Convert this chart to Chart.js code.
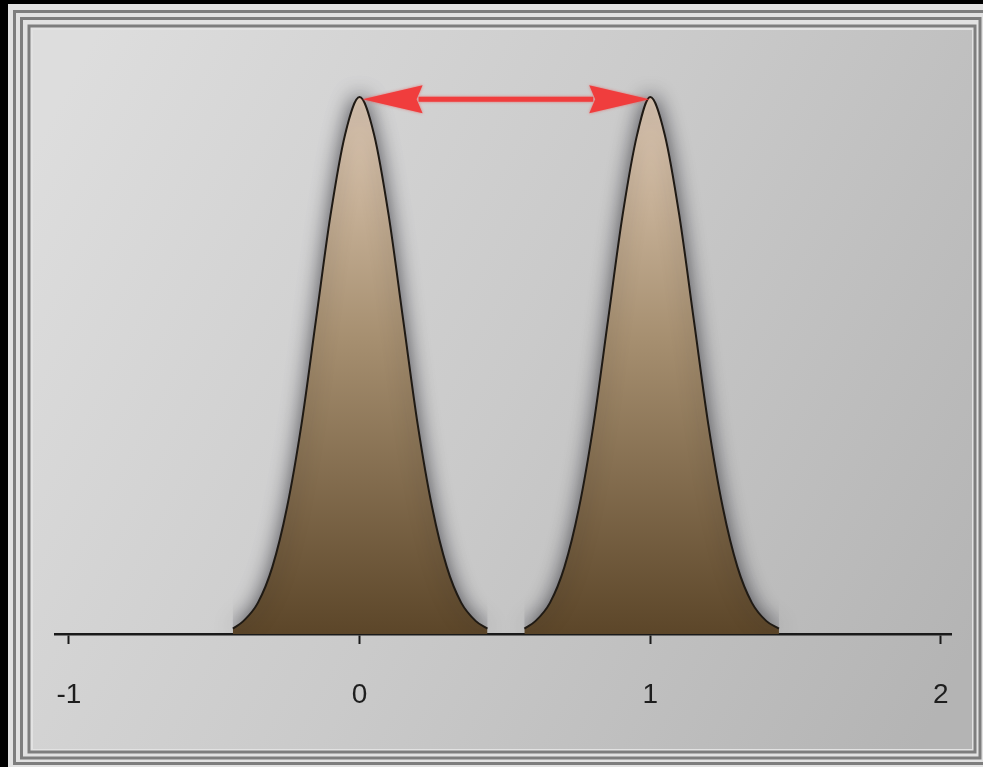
<!DOCTYPE html>
<html>
<head>
<meta charset="utf-8">
<script src="https://cdn.jsdelivr.net/npm/chart.js@4/dist/chart.umd.min.js"></script>
<style>
  html, body { margin: 0; padding: 0; background: #000; }
  #wrap { width: 983px; height: 767px; position: relative; }
</style>
</head>
<body>
<div id="wrap"><canvas id="c" width="983" height="767"></canvas></div>
<script>
// ---- data ----
const xTicks = [-1, 0, 1, 2];

const leftX = [-0.436, -0.40, -0.35, -0.30, -0.25, -0.20, -0.15, -0.10, -0.05, 0.00, 0.05, 0.10, 0.15, 0.20, 0.25, 0.30, 0.35, 0.40, 0.440];
const leftY = [0.010, 0.024, 0.058, 0.125, 0.235, 0.390, 0.585, 0.780, 0.930, 1.000, 0.930, 0.780, 0.585, 0.390, 0.235, 0.125, 0.058, 0.024, 0.010];

const rightX = [0.567, 0.605, 0.655, 0.705, 0.755, 0.805, 0.855, 0.905, 0.955, 1.000, 1.050, 1.100, 1.150, 1.200, 1.250, 1.300, 1.350, 1.400, 1.443];
const rightY = [0.010, 0.024, 0.058, 0.125, 0.235, 0.390, 0.585, 0.780, 0.930, 1.000, 0.930, 0.780, 0.585, 0.390, 0.235, 0.125, 0.058, 0.024, 0.010];

const arrowFrom = 0;
const arrowTo = 1;
const arrowLevel = 0.996;

const xMin = -1.048, xMax = 2.038;
const yMin = 0, yMax = 1.069;

function pts(xs, ys) { return xs.map((x, i) => ({ x: x, y: ys[i] })); }

function fillGradient(c) {
  const chart = c.chart;
  if (!chart.chartArea || !chart.scales.y) return '#a08a6c';
  const y0 = chart.scales.y.getPixelForValue(1);
  const y1 = chart.scales.y.getPixelForValue(0);
  const g = chart.ctx.createLinearGradient(0, y0, 0, y1);
  g.addColorStop(0, '#e0cbb6');
  g.addColorStop(0.45, '#a68f70');
  g.addColorStop(1, '#5c4629');
  return g;
}

const framePlugin = {
  id: 'frame',
  beforeDraw(chart) {
    const ctx = chart.ctx;
    ctx.save();
    ctx.fillStyle = '#000';
    ctx.fillRect(0, 0, 983, 767);
    ctx.fillStyle = '#e2e2e2';
    ctx.fillRect(8, 4, 975, 763);
    ctx.strokeStyle = '#7e7e7e';
    ctx.lineWidth = 3;
    ctx.strokeRect(14.5, 11.5, 970.5, 752);
    ctx.strokeRect(21.5, 18.5, 958.5, 739.5);
    ctx.strokeRect(29, 26, 946, 726);
    const g = ctx.createLinearGradient(33, 150, 972, 650);
    g.addColorStop(0, '#dddddd');
    g.addColorStop(0.5, '#cacaca');
    g.addColorStop(1, '#b4b4b4');
    ctx.fillStyle = g;
    ctx.fillRect(33, 30, 939, 719);
    ctx.restore();
  }
};

const shadowPlugin = {
  id: 'shadow',
  beforeDatasetsDraw(chart) {
    const ctx = chart.ctx;
    ctx.save();
    ctx.shadowColor = 'rgba(25,25,35,0.7)';
    ctx.shadowBlur = 20;
    ctx.shadowOffsetX = 0;
    ctx.shadowOffsetY = 0;
  },
  afterDatasetsDraw(chart) {
    chart.ctx.restore();
  }
};

const arrowPlugin = {
  id: 'arrow',
  afterDatasetsDraw(chart) {
    const ctx = chart.ctx;
    const xs = chart.scales.x, ys = chart.scales.y;
    const x0 = xs.getPixelForValue(arrowFrom) + 3;
    const x1 = xs.getPixelForValue(arrowTo) - 1;
    const y = ys.getPixelForValue(arrowLevel);
    const headLen = 60, headHalf = 14;
    ctx.save();
    ctx.shadowColor = 'rgba(240,60,60,0.6)';
    ctx.shadowBlur = 3;
    ctx.strokeStyle = '#f03d3d';
    ctx.fillStyle = '#f03d3d';
    ctx.lineWidth = 5;
    ctx.beginPath();
    ctx.moveTo(x0 + headLen - 4, y);
    ctx.lineTo(x1 - headLen + 4, y);
    ctx.stroke();
    ctx.beginPath();
    ctx.moveTo(x0, y);
    ctx.lineTo(x0 + headLen, y - headHalf);
    ctx.lineTo(x0 + headLen - 6, y);
    ctx.lineTo(x0 + headLen, y + headHalf);
    ctx.closePath();
    ctx.fill();
    ctx.beginPath();
    ctx.moveTo(x1, y);
    ctx.lineTo(x1 - headLen, y - headHalf);
    ctx.lineTo(x1 - headLen + 6, y);
    ctx.lineTo(x1 - headLen, y + headHalf);
    ctx.closePath();
    ctx.fill();
    ctx.restore();
  }
};

const commonDs = {
  borderColor: '#1f1a14',
  borderWidth: 2,
  pointRadius: 0,
  pointHoverRadius: 0,
  fill: 'origin',
  cubicInterpolationMode: 'monotone',
  backgroundColor: fillGradient
};

new Chart(document.getElementById('c'), {
  type: 'line',
  data: {
    datasets: [
      Object.assign({ label: 'left', data: pts(leftX, leftY) }, commonDs),
      Object.assign({ label: 'right', data: pts(rightX, rightY) }, commonDs)
    ]
  },
  options: {
    responsive: false,
    animation: false,
    events: [],
    layout: { padding: { left: 55, right: 30, top: 60, bottom: 21.4 } },
    plugins: {
      legend: { display: false },
      tooltip: { enabled: false },
      title: { display: false }
    },
    scales: {
      x: {
        type: 'linear',
        min: xMin,
        max: xMax,
        z: 1,
        afterBuildTicks(scale) { scale.ticks = xTicks.map(v => ({ value: v })); },
        grid: {
          display: true,
          drawOnChartArea: false,
          drawTicks: true,
          tickLength: 10,
          tickColor: '#1a1a1a',
          tickWidth: 2
        },
        border: { display: true, color: '#1a1a1a', width: 2.5 },
        ticks: {
          autoSkip: false,
          maxRotation: 0,
          padding: 34,
          color: '#1e1e1e',
          font: { family: 'Liberation Sans', size: 28 },
          callback: (v) => String(v)
        }
      },
      y: {
        type: 'linear',
        display: false,
        min: yMin,
        max: yMax
      }
    }
  },
  plugins: [framePlugin, shadowPlugin, arrowPlugin]
});
</script>
</body>
</html>
